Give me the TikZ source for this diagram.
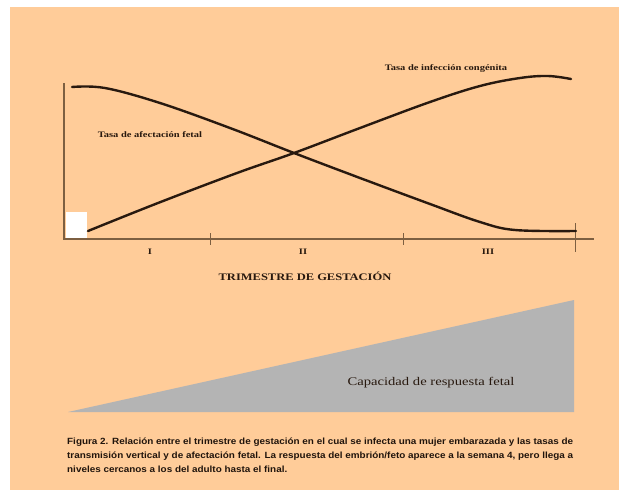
\documentclass[tikz,border=0pt]{standalone}
\usepackage{fontspec}
\setmainfont{Liberation Serif}
\newfontfamily\wideserif[FakeStretch=1.25]{Liberation Serif}
\newfontfamily\capsans[FakeStretch=1.1]{Liberation Sans}
\usetikzlibrary{positioning, calc}
\definecolor{peach}{RGB}{255,204,153}
\definecolor{inkbrown}{RGB}{40,25,15}
\definecolor{axisbrown}{RGB}{125,95,65}
\definecolor{wedgegray}{RGB}{180,180,180}
\tikzset{
  axisline/.style={draw=axisbrown, line width=1.1pt},
  tickline/.style={draw=axisbrown, line width=0.8pt},
  ratecurve/.style={draw=inkbrown, line width=2.4pt, line cap=round},
  curvelbl/.style={text=inkbrown, inner sep=0pt, font=\wideserif\bfseries\fontsize{8.4}{10}\selectfont},
  numlbl/.style={text=inkbrown, inner sep=0pt, font=\wideserif\bfseries\fontsize{8.4}{10}\selectfont},
  axistitle/.style={text=inkbrown, inner sep=0pt, font=\wideserif\bfseries\fontsize{10}{12}\selectfont},
  wedgelbl/.style={text=inkbrown, inner sep=0pt, font=\wideserif\fontsize{11.7}{14}\selectfont},
  captext/.style={text=inkbrown!80!black, inner sep=0pt, align=left, font=\capsans\bfseries\fontsize{9}{14}\selectfont},
}
\begin{document}
\begin{tikzpicture}[x=1pt, y=-1pt]
  \useasboundingbox (0,0) rectangle (619,490);
  % background
  \fill[white] (0,0) rectangle (619,490);
  \fill[peach] (10,7) rectangle (619,490);

  % axes
  \coordinate (orig) at (64,239);
  \coordinate (ytop) at (64,83);
  \coordinate (xend) at (594,239);
  \fill[white] (66,212) rectangle (87,238);
  \draw[axisline] (ytop) -- (orig) -- (xend);
  \foreach \tx in {210,403} {
    \draw[tickline] (\tx,233) -- (\tx,245);
  }
  \draw[tickline] (575,223) -- (575,252);

  % trimester labels
  \node[numlbl] (tri1) at (150,252) {I};
  \node[numlbl] (tri2) at (303,252) {II};
  \node[numlbl] (tri3) at (488,252) {III};
  \node[axistitle] (xtitle) at (305,276) {TRIMESTRE DE GESTACIÓN};

  % rate curves
  \draw[ratecurve] plot[smooth, tension=0.6] coordinates {
    (72,87) (105,88) (160,103) (230,128) (294,153) (360,178)
    (430,204) (480,222) (515,230) (576,231)};
  \draw[ratecurve] plot[smooth, tension=0.6] coordinates {
    (88,231) (158,203) (237,173) (294,153) (360,128)
    (430,102) (480,86) (520,78) (548,76) (571,79)};
  \node[curvelbl] (congl) at (446,68) {Tasa de infección congénita};
  \node[curvelbl] (fetl) at (150,135) {Tasa de afectación fetal};

  % fetal response wedge
  \fill[wedgegray] (68,412) -- (574,300) -- (574,412) -- cycle;
  \node[wedgelbl] (wedge) at (431,383) {Capacidad de respuesta fetal};

  % caption
  \node[captext, anchor=north west] (cap) at (67,438) {Figura 2. Relación entre el trimestre de gestación en el cual se infecta una mujer embarazada y las tasas de\\
    transmisión vertical y de afectación fetal. La respuesta del embrión/feto aparece a la semana 4, pero llega a\\
    niveles cercanos a los del adulto hasta el final.};
\end{tikzpicture}
\end{document}
